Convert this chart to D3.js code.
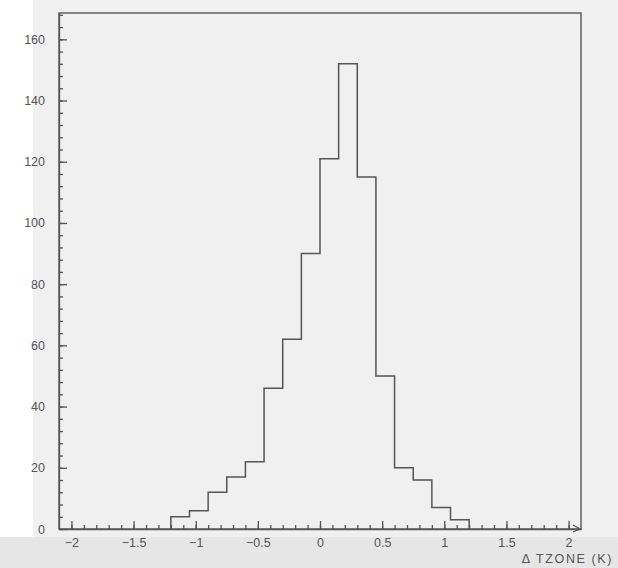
<!DOCTYPE html>
<meta charset="UTF-8">
<style>
body { margin: 0; background: #fff; }
.axis text { font: 12.5px "Liberation Sans", Arial, sans-serif; fill: #555; }
.axis path, .axis line { stroke: #555; stroke-width: 1.3px; }
.hist { fill: none; stroke: #555; stroke-width: 1.5px; }
</style>
<body>
<div class="chart"></div>
<script src="https://d3js.org/d3.v7.min.js"></script>
<script>
// bin lower edges (K), counts per bin (width 0.15)
var binStart = [-1.2, -1.05, -0.9, -0.75, -0.6, -0.45, -0.3, -0.15, 0, 0.15, 0.3, 0.45, 0.6, 0.75, 0.9, 1.05];
var counts   = [4, 6, 12, 17, 22, 46, 62, 90, 121, 152, 115, 50, 20, 16, 7, 3];
var binWidth = 0.15;

var xMajor = [-2, -1.5, -1, -0.5, 0, 0.5, 1, 1.5, 2];
var xLabels = ["\u22122", "\u22121.5", "\u22121", "\u22120.5", "0", "0.5", "1", "1.5", "2"];
var yMajor = [0, 20, 40, 60, 80, 100, 120, 140, 160];

var width = 618, height = 568;
var svg = d3.select(".chart").append("svg")
  .attr("width", width).attr("height", height);

// scanned paper tones
svg.append("rect").attr("x", 33).attr("y", 0).attr("width", width - 33).attr("height", height).attr("fill", "#f0f0f0");
svg.append("rect").attr("x", 0).attr("y", 537).attr("width", width).attr("height", height - 537).attr("fill", "#e6e6e6");

var x = d3.scaleLinear().domain([-2.1, 2.1]).range([59, 581]);
var y = d3.scaleLinear().domain([0, 168.6]).range([529, 13]);

// frame
svg.append("rect")
  .attr("x", x.range()[0]).attr("y", y.range()[1])
  .attr("width", x.range()[1] - x.range()[0])
  .attr("height", y.range()[0] - y.range()[1])
  .attr("fill", "none").attr("stroke", "#555").attr("stroke-width", 1.4);

var xMinor = d3.range(-20, 21).map(function (k) { return k / 10; });
var yMinor = d3.range(0, 169, 4);

var gx = svg.append("g").attr("class", "axis").attr("transform", "translate(0," + y(0) + ")");
gx.call(d3.axisBottom(x).tickValues(xMinor).tickSize(-4).tickFormat("").tickSizeOuter(0));
var gx2 = svg.append("g").attr("class", "axis").attr("transform", "translate(0," + y(0) + ")");
gx2.call(d3.axisBottom(x).tickValues(xMajor).tickSize(-8).tickPadding(9).tickSizeOuter(0)
  .tickFormat(function (d, i) { return xLabels[i]; }));
gx2.select(".domain").remove();

var gy = svg.append("g").attr("class", "axis").attr("transform", "translate(" + x(-2.1) + ",0)");
gy.call(d3.axisLeft(y).tickValues(yMinor).tickSize(-4).tickFormat("").tickSizeOuter(0));
var gy2 = svg.append("g").attr("class", "axis").attr("transform", "translate(" + x(-2.1) + ",0)");
gy2.call(d3.axisLeft(y).tickValues(yMajor).tickSize(-8).tickPadding(14).tickSizeOuter(0));
gy2.select(".domain").remove();

// arrow at end of x axis
svg.append("path")
  .attr("d", "M" + (x(2.1) - 8) + "," + (y(0) - 4) + "L" + (x(2.1) - 1) + "," + y(0) + "L" + (x(2.1) - 8) + "," + (y(0) + 3))
  .attr("fill", "none").attr("stroke", "#555").attr("stroke-width", 1.2);

svg.append("text")
  .attr("x", 613).attr("y", 563)
  .attr("text-anchor", "end")
  .style("font", "12.5px 'Liberation Sans', Arial, sans-serif")
  .style("letter-spacing", "1.6px")
  .attr("fill", "#555")
  .text("\u0394 TZONE (K)");

// histogram outline
var pts = [[binStart[0], 0]];
binStart.forEach(function (b, i) {
  pts.push([b, counts[i]]);
  pts.push([b + binWidth, counts[i]]);
});
pts.push([binStart[binStart.length - 1] + binWidth, 0]);

var line = d3.line()
  .x(function (d) { return x(d[0]); })
  .y(function (d) { return y(d[1]); });

svg.append("path").attr("class", "hist").attr("d", line(pts));
</script>
</body>
